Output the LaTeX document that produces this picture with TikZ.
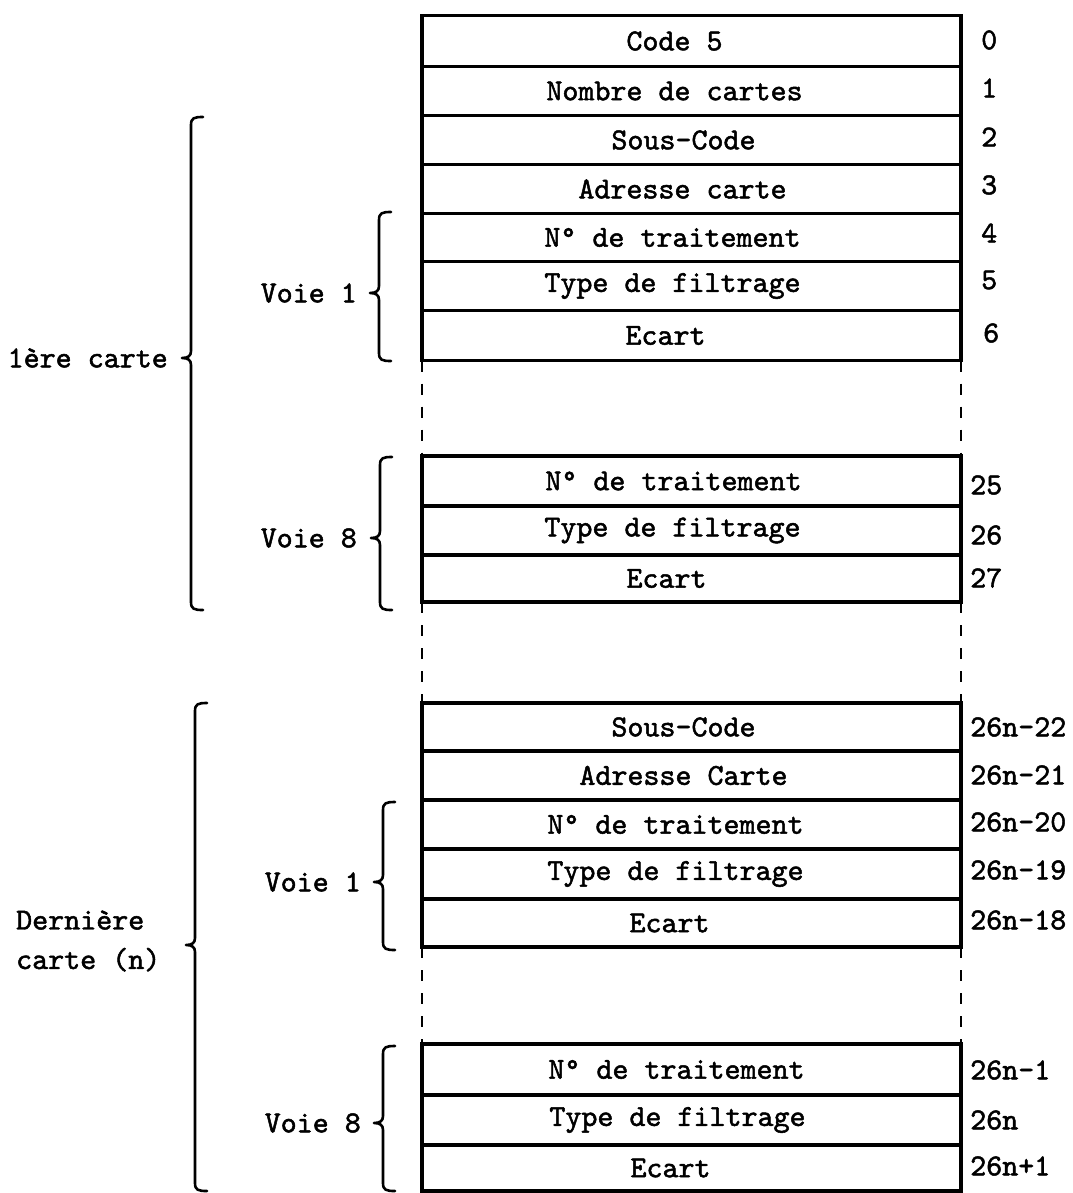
\documentclass[tikz,border=0pt]{standalone}
\usepackage{fontspec}
\newfontfamily\tw{lmmono10-regular}[Extension=.otf, FakeBold=1.6]
\newcommand\mybrace[4]{%
  \draw[bracestyle] ({#1+12},{#2}) .. controls ({#1+3},{#2}) and ({#1},{#2+1}) .. ({#1},{#2+8})
    -- ({#1},{#4-7}) .. controls ({#1},{#4-2}) and ({#1-3},{#4}) .. ({#1-9},{#4})
    .. controls ({#1-3},{#4}) and ({#1},{#4+2}) .. ({#1},{#4+7})
    -- ({#1},{#3-8}) .. controls ({#1},{#3-1}) and ({#1+3},{#3}) .. ({#1+12},{#3});}
% box with its text shifted left by #4 pt
\newcommand\cellrow[5]{%
  \node[cell, minimum height=#3pt] (#1) at (691.5,#2) {};
  \node[txt] (#1t) at ([xshift=-#4pt]#1.center) {#5};}
\begin{document}
\begin{tikzpicture}[x=1pt,y=-1pt,
  txt/.style={font=\tw\fontsize{30.5}{30.5}\selectfont, inner sep=0pt},
  cell/.style={draw, line width=3.2pt, minimum width=539pt, inner sep=0pt, outer sep=0pt},
  num/.style={txt, anchor=west},
  lbl/.style={txt, anchor=east},
  dashline/.style={line width=2.4pt, dash pattern=on 11pt off 12pt},
  bracestyle/.style={line width=2.6pt, line cap=round, line join=round}]
\useasboundingbox (0,0) rectangle (1072,1193);
\fill[white] (0,0) rectangle (1072,1193);
% block 1
\cellrow{a1}{41}{51}{17}{Code 5}
\cellrow{a2}{91}{49}{17}{Nombre de cartes}
\cellrow{a3}{140}{49}{8}{Sous-Code}
\cellrow{a4}{189}{49}{9}{Adresse carte}
\cellrow{a5}{237.5}{48}{19}{N° de traitement}
\cellrow{a6}{286}{49}{19}{Type de filtrage}
\cellrow{a7}{335.5}{50}{26}{Ecart}
% block 2
\cellrow{b1}{481}{50}{18}{N° de traitement}
\cellrow{b2}{530.5}{49}{19}{Type de filtrage}
\cellrow{b3}{578.5}{47}{25}{Ecart}
% block 3
\cellrow{c1}{727}{48}{8}{Sous-Code}
\cellrow{c2}{775.5}{49}{8}{Adresse Carte}
\cellrow{c3}{824.5}{49}{16}{N° de traitement}
\cellrow{c4}{874}{50}{16}{Type de filtrage}
\cellrow{c5}{923}{48}{22}{Ecart}
% block 4
\cellrow{d1}{1069.5}{51}{15}{N° de traitement}
\cellrow{d2}{1120}{50}{14}{Type de filtrage}
\cellrow{d3}{1168}{46}{21}{Ecart}
% dashed continuations
\draw[dashline] (a7.south west) -- (b1.north west);
\draw[dashline] (a7.south east) -- (b1.north east);
\draw[dashline] (b3.south west) -- (c1.north west);
\draw[dashline] (b3.south east) -- (c1.north east);
\draw[dashline] (c5.south west) -- (d1.north west);
\draw[dashline] (c5.south east) -- (d1.north east);
% addresses
\node[num] (n0) at (981,40) {0};
\node[num] (n1) at (981,88) {1};
\node[num] (n2) at (981,137) {2};
\node[num] (n3) at (981,185) {3};
\node[num] (n4) at (981,233) {4};
\node[num] (n5) at (981,280) {5};
\node[num] (n6) at (983,333) {6};
\node[num] (n25) at (970,485) {25};
\node[num] (n26) at (970,535) {26};
\node[num] (n27) at (970,578) {27};
\node[num] (m22) at (970,727) {26n-22};
\node[num] (m21) at (970,775) {26n-21};
\node[num] (m20) at (970,822) {26n-20};
\node[num] (m19) at (970,870) {26n-19};
\node[num] (m18) at (970,920) {26n-18};
\node[num] (m1) at (970,1070) {26n-1};
\node[num] (m0) at (970,1120) {26n};
\node[num] (mp) at (970,1166) {26n+1};
% braces
\mybrace{191}{117}{610}{358}
\mybrace{379}{212}{361}{293}
\mybrace{380}{457}{610}{538}
\mybrace{195}{703}{1191}{945}
\mybrace{383}{802}{950}{882}
\mybrace{383}{1046}{1191}{1123}
% labels
\node[lbl] (l1) at (168,358) {1ère carte};
\node[lbl] (v1a) at (357,293) {Voie 1};
\node[lbl] (v8a) at (357,538) {Voie 8};
\node[txt, anchor=west, align=left] (l2) at (16,941) {Dernière\\[9pt]carte (n)};
\node[lbl] (v1b) at (361,882) {Voie 1};
\node[lbl] (v8b) at (361,1123) {Voie 8};
\end{tikzpicture}
\end{document}
